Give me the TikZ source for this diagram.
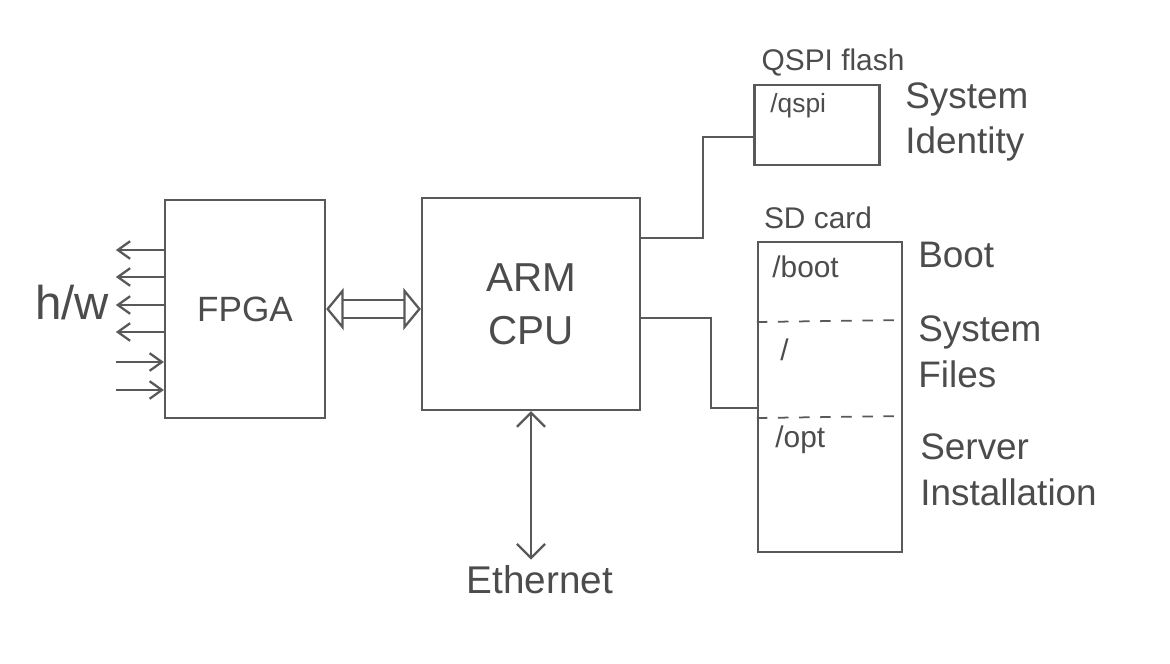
\documentclass[tikz,border=0pt]{standalone}
\usepackage{fontspec}
\setsansfont{Liberation Sans}
\usetikzlibrary{arrows.meta}

\begin{document}
\begin{tikzpicture}[x=0.02cm,y=-0.02cm,
    pen/.style={draw=black!65,line width=1.3pt},
    box/.style={pen,rectangle,inner sep=0pt,text=black!70,align=center},
    hwtip/.tip={Straight Barb[length=7pt,width=10pt]},
    ethtip/.tip={Straight Barb[length=8pt,width=16pt]},
    bustip/.tip={Triangle[open,length=10pt,width=24pt]},
    hand/.style={text=black!70,font=\sffamily\fontsize{21}{26}\selectfont},
    lbl/.style={hand,align=left,anchor=west,inner sep=0pt},
    tag/.style={text=black!70,font=\sffamily\fontsize{15}{18}\selectfont,anchor=west,inner sep=0pt}]

  \useasboundingbox (0,0) rectangle (1170,663);

  % Draw FPGA
  \node[box,minimum width=3.2cm,minimum height=4.36cm,
        font=\sffamily\fontsize{20}{24}\selectfont] (fpga) at (245,309) {FPGA};

  % Draw h/w lines
  \node[hand,font=\sffamily\fontsize{27}{32}\selectfont] (hw) at (72,303) {h/w};
  \foreach \y in {250,277,305,332}
    \draw[pen,-hwtip] (fpga.west |- 0,\y) -- ++(-48,0);
  \foreach \y in {362,390}
    \draw[pen,hwtip-] (fpga.west |- 0,\y) -- ++(-48,0);

  % Draw CPU
  \node[box,minimum width=4.36cm,minimum height=4.24cm,
        font=\sffamily\fontsize{23}{30}\selectfont] (cpu) at (531,304) {ARM\\CPU};

  % Draw bus
  \draw[pen,double=white,double distance=9pt,bustip-bustip]
        (fpga.east) -- (fpga.east -| cpu.west);

  % Draw Ethernet
  \node[hand,font=\sffamily\fontsize{22}{26}\selectfont] (eth) at (540,580) {Ethernet};
  \draw[pen,ethtip-ethtip] (cpu.south) -- (cpu.south |- eth.north);

  % Draw QSPI flash
  \node[box,minimum width=2.5cm,minimum height=1.6cm] (qspi) at (817,125) {};
  \node[hand,font=\sffamily\fontsize{17}{20}\selectfont] (qspihead) at (833,62) {QSPI flash};
  \node[tag] (qspidir) at (770,106) {/qspi};
  \node[lbl] (sysid) at (905,122) {System\\Identity};

  % Draw SD card
  \node[box,minimum width=2.88cm,minimum height=6.2cm] (sdcard) at (830,397) {};
  \node[hand,font=\sffamily\fontsize{17}{20}\selectfont] (sdhead) at (818,218) {SD card};
  \draw[pen,line width=1pt,dash pattern=on 6pt off 6pt] (sdcard.west |- 0,322) -- (sdcard.east |- 0,320);
  \draw[pen,line width=1pt,dash pattern=on 6pt off 6pt] (sdcard.west |- 0,418) -- (sdcard.east |- 0,416);
  \node[tag,font=\sffamily\fontsize{17}{20}\selectfont] (bootdir) at (772,267) {/boot};
  \node[tag,font=\sffamily\fontsize{17}{20}\selectfont] (rootdir) at (780,350) {/};
  \node[tag,font=\sffamily\fontsize{17}{20}\selectfont] (optdir) at (775,440) {/opt};
  \node[lbl] (boot) at (918,255) {Boot};
  \node[lbl] (sysfiles) at (918,352) {System\\Files};
  \node[lbl] (server) at (920,470) {Server\\Installation};

  % Draw storage links
  \draw[pen] (cpu.east |- 0,238) -- ++(62,0) |- (qspi.west |- 0,137);
  \draw[pen] (cpu.east |- 0,318) -- ++(70,0) |- (sdcard.west |- 0,408);
\end{tikzpicture}
\end{document}
